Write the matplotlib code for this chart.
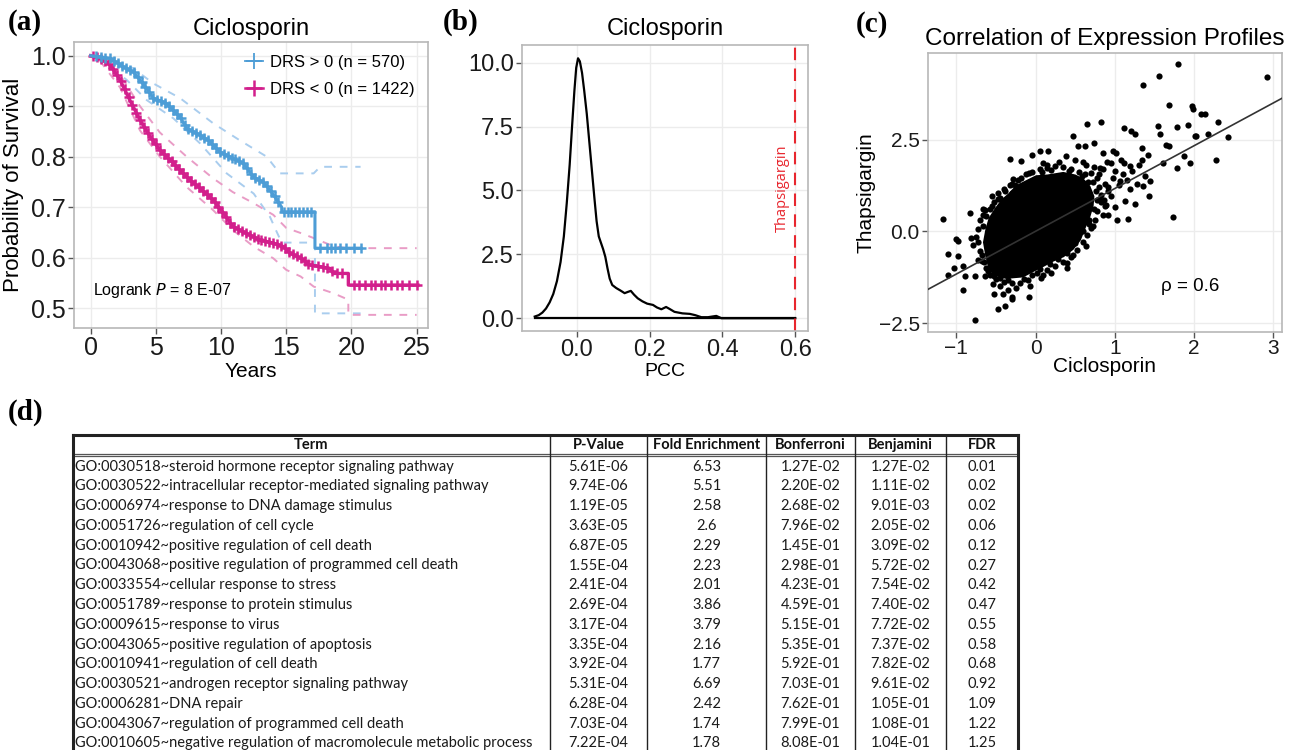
import numpy as np
import matplotlib.pyplot as plt
from matplotlib.lines import Line2D

plt.rcParams['font.family'] = ['Liberation Sans', 'DejaVu Sans']

W, H = 1291, 750
fig = plt.figure(figsize=(W / 100, H / 100), dpi=100)

# ---------------- data: (a) Kaplan-Meier ----------------
pos_t = [0, 1.48, 2.5, 3.27, 4.3, 4.8, 5.8, 6.85, 7.36, 8.4, 9.15, 9.9, 10.9, 11.7,
         12.5, 13.2, 13.75, 14.3, 14.65, 14.65, 17.2, 17.2, 20.7]
pos_s = [1.0, 0.995, 0.978, 0.968, 0.935, 0.916, 0.906, 0.879, 0.856, 0.843, 0.83, 0.81,
         0.797, 0.787, 0.76, 0.75, 0.734, 0.714, 0.70, 0.691, 0.691, 0.619, 0.619]
pos_up_t = [0.7, 3.27, 4.8, 6.85, 9.4, 11.4, 13.5, 14.5, 17.1, 17.6, 20.7]
pos_up_s = [1.0, 0.975, 0.945, 0.916, 0.866, 0.833, 0.80, 0.767, 0.767, 0.78, 0.78]
pos_lo_t = [0.7, 2.76, 4.3, 6.34, 8.4, 10.43, 12.5, 13.75, 14.2, 14.65, 17.2, 17.2, 20.7]
pos_lo_s = [0.995, 0.952, 0.912, 0.876, 0.826, 0.767, 0.727, 0.681, 0.655, 0.63, 0.63, 0.49, 0.49]
pos_cens = [0.4, 0.8, 1.1, 1.5, 1.8, 2.1, 2.4, 2.7, 3.0, 3.3, 3.6, 3.9, 4.2, 4.5, 4.8,
            5.1, 5.4, 5.7, 6.0, 6.3, 6.6, 6.9, 7.2, 7.5, 7.8, 8.1, 8.4, 8.7, 9.0, 9.3,
            9.6, 9.9, 10.2, 10.5, 10.8, 11.1, 11.4, 11.7, 12.0, 12.3, 12.6, 12.9, 13.2,
            13.5, 13.8, 14.1, 14.4, 14.8, 15.1, 15.4, 15.7, 16.0, 16.3, 16.6, 16.9,
            17.6, 18.1, 18.4, 18.7, 19.1, 19.6, 20.2, 20.7]

neg_t = [0, 0.72, 1.48, 2.25, 3.0, 3.78, 4.55, 5.32, 6.34, 7.36, 8.4, 9.4, 10.2, 10.9,
         11.96, 13.0, 14.0, 14.8, 15.3, 16.1, 16.8, 18.35, 18.6, 19.76, 19.76, 25.1]
neg_s = [1.0, 0.995, 0.982, 0.952, 0.912, 0.873, 0.84, 0.813, 0.787, 0.76, 0.737, 0.714,
         0.688, 0.662, 0.648, 0.635, 0.629, 0.622, 0.609, 0.599, 0.586, 0.579, 0.569,
         0.569, 0.546, 0.546]
neg_up_t = [0.7, 2.25, 3.78, 5.3, 7.36, 9.4, 10.9, 12.5, 14.0, 15.0, 16.1, 17.1, 18.6, 19.6, 25.0]
neg_up_s = [0.998, 0.962, 0.90, 0.848, 0.80, 0.757, 0.73, 0.708, 0.685, 0.659, 0.649,
            0.639, 0.623, 0.619, 0.619]
neg_lo_t = [0.7, 2.25, 3.78, 5.3, 7.36, 9.4, 10.9, 12.5, 14.0, 15.0, 16.1, 17.1, 18.6,
            19.76, 19.76, 25.0]
neg_lo_s = [0.99, 0.937, 0.852, 0.80, 0.74, 0.694, 0.655, 0.622, 0.599, 0.576, 0.563,
            0.543, 0.53, 0.517, 0.487, 0.487]
neg_cens = [0.2, 0.5, 0.8, 1.1, 1.4, 1.7, 2.0, 2.3, 2.6, 2.9, 3.2, 3.5, 3.8, 4.1, 4.4,
            4.7, 5.0, 5.3, 5.6, 5.9, 6.2, 6.5, 6.8, 7.1, 7.4, 7.7, 8.0, 8.3, 8.6, 8.9,
            9.2, 9.5, 9.8, 10.1, 10.4, 10.7, 11.0, 11.3, 11.6, 11.9, 12.2, 12.5, 12.8,
            13.1, 13.4, 13.7, 14.0, 14.3, 14.6, 14.9, 15.2, 15.5, 15.8, 16.1, 16.4,
            16.7, 17.0, 17.4, 17.8, 18.1, 18.5, 18.9, 19.3, 20.2, 20.6, 21.0, 21.5,
            21.8, 22.3, 22.6, 23.0, 23.5, 23.9, 24.4, 25.0]

# ---------------- data: (b) density of PCC ----------------
pcc_x = [-0.116, -0.105, -0.095, -0.085, -0.075, -0.065, -0.055, -0.045, -0.036, -0.028,
         -0.02, -0.013, -0.007, -0.002, 0.003, 0.008, 0.014, 0.02, 0.027, 0.034, 0.041,
         0.048, 0.054, 0.06, 0.066, 0.072, 0.078, 0.084, 0.09, 0.097, 0.108, 0.12,
         0.131, 0.14, 0.148, 0.157, 0.167, 0.18, 0.193, 0.209, 0.22, 0.232, 0.245,
         0.255, 0.268, 0.29, 0.31, 0.325, 0.342, 0.36, 0.383, 0.397, 0.45, 0.6]
pcc_d = [0.065, 0.12, 0.22, 0.38, 0.62, 0.95, 1.45, 2.2, 3.2, 4.5, 6.0, 7.6, 8.9, 9.8,
         10.17, 10.05, 9.6, 8.9, 8.0, 6.9, 5.8, 4.7, 3.8, 3.2, 2.95, 2.7, 2.4, 1.95,
         1.55, 1.3, 1.18, 1.08, 0.98, 1.03, 1.07, 0.92, 0.78, 0.66, 0.57, 0.52, 0.42,
         0.35, 0.44, 0.36, 0.25, 0.19, 0.17, 0.12, 0.04, 0.04, 0.09, 0.0, 0.0, 0.0]
thaps_pcc = 0.6

# ---------------- data: (c) scatter ----------------
sc_x = [-1.17, 1.80, 2.92, 1.56, 1.36, 1.68, 1.98, 1.99, 2.09, 2.14, 2.30, 1.93, 1.78,
        1.55, 1.57, 2.18, 2.01, 2.03, 2.43, 0.65, 0.83, 1.12, 1.21, 1.25, 0.47, 2.28,
        1.95, 1.87, 1.79, 1.61, 1.74, 1.65, 1.68, 1.34, 1.42, 1.43, 1.38, 1.17, 1.03,
        0.92, 1.25, 1.13, 1.19, 1.36, 1.44, 1.06, 0.98, 1.02, 0.85, 0.74, 0.63, 0.53,
        0.39, 0.16, 0.05, -0.05, -0.18, -0.32, 0.14, -0.26, -0.30, -0.64, -0.83, -0.81,
        -1.0, -0.98, -0.79, -1.10, -0.98, -0.73, -0.67, -0.92, -1.03, -1.10, -0.89,
        -0.92, -0.77, -0.64, -0.54, -0.52, -0.41, -0.30, -0.30, -0.47, -0.39, -0.08,
        -0.76, -0.07, 0.07, 0.20, 0.40, 0.47, 0.64, 0.73, 0.89, 0.81, 0.68, 0.64, 0.81,
        1.00, 1.11, 1.19, 1.34]
sc_y = [0.34, 4.57, 4.21, 4.23, 4.0, 3.43, 3.41, 3.32, 3.2, 3.2, 2.97, 2.91, 2.84,
        2.86, 2.65, 2.65, 2.59, 2.61, 2.56, 2.93, 2.99, 2.82, 2.73, 2.64, 2.59, 1.94,
        1.86, 2.06, 1.73, 1.86, 0.38, 2.36, 2.32, 2.27, 2.09, 0.95, 1.5, 0.34, 0.32,
        0.45, 0.75, 0.82, 1.14, 1.23, 1.36, 1.36, 2.18, 2.14, 2.14, 2.41, 2.32, 2.32,
        2.06, 2.18, 2.18, 2.09, 1.91, 1.98, 1.82, 1.27, 1.05, 0.57, 0.5, -0.18, -0.21,
        -0.27, -0.36, -0.61, -0.66, -0.77, -0.64, -0.95, -1.0, -1.18, -1.23, -1.59,
        -1.21, -1.21, -1.45, -1.7, -1.7, -1.79, -1.85, -2.12, -2.03, -1.8, -2.41, -1.5,
        -1.27, -1.14, -0.86, -0.64, -0.41, 0.14, 0.73, 0.86, 1.05, 1.82, 1.73, 1.64,
        1.86, 1.77, 1.95]
# points crowding around the edge of the dense core
halo_x = [-0.72, -0.70, -0.66, -0.58, -0.52, -0.45, -0.38, -0.32, -0.22, -0.12, -0.05,
          0.05, 0.15, 0.25, 0.35, 0.45, 0.55, 0.62, -0.66, -0.48, -0.28, 0.10, 0.30,
          0.72, 0.80, 0.83, 0.82, 0.78, 0.75, 0.70, 0.65, 0.60, 0.52, 0.45, 0.35, 0.25,
          0.15, 0.02, -0.10, -0.20, -0.30, -0.40, -0.50, -0.58, -0.62, -0.68, -0.70,
          -0.72, -0.75, -0.25, -0.45, 0.10, 0.70, 0.78, 0.88, 0.92, 0.98, 1.05, 1.10,
          0.85, 0.95, 1.08, 1.15, 1.22, 1.30, 1.28, 0.88, 0.95, 1.00, 0.85, 0.90, 0.60,
          0.50, -0.35, 0.40, 0.68, -0.55,
          -0.66, -0.62, -0.55, -0.47, -0.40, -0.30, -0.18, -0.08, 0.08, 0.20, 0.42,
          0.58, 0.66, 0.76, 0.78, 0.74, 0.68, 0.60, 0.50, 0.40, 0.28, 0.18, 0.05,
          -0.05, -0.15, -0.35, -0.45, -0.52, -0.60, -0.65, 0.86, 0.92, 0.80, 0.74]
halo_y = [0.05, 0.30, 0.45, 0.62, 0.80, 0.92, 1.10, 1.25, 1.40, 1.55, 1.62, 1.70, 1.72,
          1.78, 1.74, 1.70, 1.62, 1.55, 0.60, 1.05, 1.42, 1.85, 1.90, 1.35, 1.20, 1.00,
          0.80, 0.55, 0.30, 0.10, -0.10, -0.30, -0.50, -0.70, -0.85, -0.95, -1.05,
          -1.15, -1.32, -1.40, -1.42, -1.38, -1.30, -1.20, -1.00, -0.80, -0.55, -0.30,
          -0.15, -1.55, -1.50, -1.20, 1.60, 1.45, 1.30, 1.10, 1.45, 1.25, 1.55, 1.70,
          1.85, 1.95, 1.40, 1.65, 1.80, 1.30, 0.70, 0.95, 0.65, 0.45, 1.90, 1.90, 1.95,
          -1.60, -1.00, 0.20, 0.95,
          0.15, 0.42, 0.70, 0.88, 1.15, 1.30, 1.45, 1.58, 1.62, 1.66, 1.64, 1.50, 1.35,
          1.10, 0.85, 0.60, 0.30, 0.00, -0.32, -0.58, -0.75, -0.90, -1.02, -1.18, -1.30,
          -1.33, -1.28, -1.22, -1.08, -0.85, 0.85, 1.20, 1.55, 1.75]
# dense core of the cloud (outline of the solid region)
core_x = [-0.62, -0.58, -0.50, -0.42, -0.33, -0.24, -0.12, 0.01, 0.15, 0.35, 0.50,
          0.60, 0.68, 0.73, 0.72, 0.68, 0.62, 0.56, 0.47, 0.35, 0.22, 0.09, -0.03,
          -0.16, -0.27, -0.37, -0.46, -0.54, -0.59, -0.62, -0.65]
core_y = [0.05, 0.35, 0.62, 0.85, 1.02, 1.23, 1.36, 1.50, 1.52, 1.59, 1.52, 1.41, 1.22,
          0.95, 0.70, 0.41, 0.10, -0.23, -0.48, -0.68, -0.80, -0.95, -1.08, -1.23,
          -1.25, -1.27, -1.22, -1.14, -0.95, -0.68, -0.30]
fit_slope, fit_icpt = 1.166, 0.0
rho = 0.6

# ---------------- data: (d) GO table ----------------
col_names = ['Term', 'P-Value', 'Fold Enrichment', 'Bonferroni', 'Benjamini', 'FDR']
terms = ['GO:0030518~steroid hormone receptor signaling pathway',
         'GO:0030522~intracellular receptor-mediated signaling pathway',
         'GO:0006974~response to DNA damage stimulus',
         'GO:0051726~regulation of cell cycle',
         'GO:0010942~positive regulation of cell death',
         'GO:0043068~positive regulation of programmed cell death',
         'GO:0033554~cellular response to stress',
         'GO:0051789~response to protein stimulus',
         'GO:0009615~response to virus',
         'GO:0043065~positive regulation of apoptosis',
         'GO:0010941~regulation of cell death',
         'GO:0030521~androgen receptor signaling pathway',
         'GO:0006281~DNA repair',
         'GO:0043067~regulation of programmed cell death',
         'GO:0010605~negative regulation of macromolecule metabolic process']
p_value = ['5.61E-06', '9.74E-06', '1.19E-05', '3.63E-05', '6.87E-05', '1.55E-04',
           '2.41E-04', '2.69E-04', '3.17E-04', '3.35E-04', '3.92E-04', '5.31E-04',
           '6.28E-04', '7.03E-04', '7.22E-04']
fold_enr = ['6.53', '5.51', '2.58', '2.6', '2.29', '2.23', '2.01', '3.86', '3.79',
            '2.16', '1.77', '6.69', '2.42', '1.74', '1.78']
bonferroni = ['1.27E-02', '2.20E-02', '2.68E-02', '7.96E-02', '1.45E-01', '2.98E-01',
              '4.23E-01', '4.59E-01', '5.15E-01', '5.35E-01', '5.92E-01', '7.03E-01',
              '7.62E-01', '7.99E-01', '8.08E-01']
benjamini = ['1.27E-02', '1.11E-02', '9.01E-03', '2.05E-02', '3.09E-02', '5.72E-02',
             '7.54E-02', '7.40E-02', '7.72E-02', '7.37E-02', '7.82E-02', '9.61E-02',
             '1.05E-01', '1.08E-01', '1.04E-01']
fdr = ['0.01', '0.02', '0.02', '0.06', '0.12', '0.27', '0.42', '0.47', '0.55', '0.58',
       '0.68', '0.92', '1.09', '1.22', '1.25']

BLUE, BLUE_L = '#4d9dd6', '#a9cdee'
MAG, MAG_L = '#d21f8c', '#e99cc6'


def px_axes(l, t, r, b):
    return fig.add_axes([l / W, 1 - b / H, (r - l) / W, (b - t) / H])


def gg_style(ax, size):
    for s in ax.spines.values():
        s.set_color('#b8b8b8')
        s.set_linewidth(1.2)
    ax.grid(True, color='#ececec', lw=1.0)
    ax.set_axisbelow(True)
    ax.tick_params(length=4, width=1, color='#555555', labelsize=size,
                   labelcolor='#1a1a1a', pad=2)


def panel_label(x, y, s):
    fig.text(x / W, 1 - y / H, s, family=['Liberation Serif', 'DejaVu Serif'],
             weight='bold', size=21, va='center', ha='left')


# ---------------- table (d), drawn on a full-figure axes ----------------
tab = fig.add_axes([0, 0, 1, 1])
tab.set_xlim(0, W)
tab.set_ylim(H, 0)
tab.axis('off')
col_edges = [72.7, 550, 647, 766, 855, 946, 1018]
top, head_bot, row0, row_h = 434.5, 455, 466.7, 19.76
tfont = ['Lato', 'DejaVu Sans']
tab.plot([col_edges[0], col_edges[-1]], [top, top], color='#222222', lw=2.2)
tab.plot([col_edges[0], col_edges[-1]], [head_bot - 1.3, head_bot - 1.3], color='#555555', lw=0.9)
tab.plot([col_edges[0], col_edges[-1]], [head_bot + 1.3, head_bot + 1.3], color='#555555', lw=0.9)
for i, xe in enumerate(col_edges):
    lw = 2.2 if i in (0, len(col_edges) - 1) else 1.0
    tab.plot([xe, xe], [top, H + 5], color='#222222', lw=lw)
for j, name in enumerate(col_names):
    cx = (col_edges[j] + col_edges[j + 1]) / 2
    tab.text(cx, (top + head_bot) / 2 + 0.5, name, family=tfont, weight='bold', size=10.5,
             ha='center', va='center', color='#111111')
cols = [p_value, fold_enr, bonferroni, benjamini, fdr]
for i, term in enumerate(terms):
    y = row0 + i * row_h
    tab.text(col_edges[0] + 2, y, term, family=tfont, size=10.5, ha='left', va='center',
             color='#1a1a1a')
    for j, col in enumerate(cols):
        cx = (col_edges[j + 1] + col_edges[j + 2]) / 2
        tab.text(cx, y, col[i], family=tfont, size=10.5, ha='center', va='center',
                 color='#1a1a1a')

# ---------------- (a) survival ----------------
ax = px_axes(74, 42, 428, 328)
gg_style(ax, 18)
ax.plot(pos_up_t, pos_up_s, color=BLUE_L, lw=1.4, dashes=(4, 4))
ax.plot(pos_lo_t, pos_lo_s, color=BLUE_L, lw=1.4, dashes=(4, 4))
ax.plot(neg_up_t, neg_up_s, color=MAG_L, lw=1.4, dashes=(4, 4))
ax.plot(neg_lo_t, neg_lo_s, color=MAG_L, lw=1.4, dashes=(4, 4))
ax.plot(neg_t, neg_s, color=MAG, lw=2.4)
ax.plot(neg_cens, np.interp(neg_cens, neg_t, neg_s), ls='none', marker='+', ms=7,
        mew=1.8, color=MAG)
ax.plot(pos_t, pos_s, color=BLUE, lw=2.2)
ax.plot(pos_cens, np.interp(pos_cens, pos_t, pos_s), ls='none', marker='+', ms=7,
        mew=1.8, color=BLUE)
ax.set_xlim(-1.28, 25.87)
ax.set_ylim(0.461, 1.027)
ax.set_xticks([0, 5, 10, 15, 20, 25])
ax.set_yticks([0.5, 0.6, 0.7, 0.8, 0.9, 1.0])
ax.set_yticklabels(['0.5', '0.6', '0.7', '0.8', '0.9', '1.0'])
ax.set_xlabel('Years', size=15, labelpad=1)
ax.set_ylabel('Probability of Survival', size=16, labelpad=5)
ax.set_title('Ciclosporin', size=17, pad=5)
handles = [Line2D([], [], color=BLUE, lw=1.3, marker='+', ms=11, mew=1.3),
           Line2D([], [], color=MAG, lw=1.8, marker='+', ms=11, mew=1.8)]
ax.legend(handles, ['DRS > 0 (n = 570)', 'DRS < 0 (n = 1422)'], loc='upper right',
          bbox_to_anchor=(1.0, 1.0), frameon=False, fontsize=12, handlelength=1.1,
          handletextpad=0.4, labelspacing=0.7, borderaxespad=0.4)
ax.text(0.18, 0.536, 'Logrank $\\it{P}$ = 8 E-07', size=11.5, va='center', ha='left')
panel_label(8, 22, '(a)')

# ---------------- (b) density ----------------
ax = px_axes(522, 45, 808, 331)
gg_style(ax, 17)
ax.plot(pcc_x, pcc_d, color='black', lw=1.6, solid_joinstyle='round')
ax.plot([pcc_x[0], pcc_x[-1]], [0, 0], color='black', lw=1.6)
ax.axvline(thaps_pcc, color='#e8262e', lw=1.5, dashes=(6, 4))
ax.text(thaps_pcc - 0.035, 5.1, 'Thapsigargin', rotation=90, color='#e8262e', size=10.5,
        ha='center', va='center', family=['Open Sans', 'DejaVu Sans'])
ax.set_xlim(-0.151, 0.635)
ax.set_ylim(-0.5, 10.69)
ax.set_xticks([0.0, 0.2, 0.4, 0.6])
ax.set_xticklabels(['0.0', '0.2', '0.4', '0.6'])
ax.set_yticks([0, 2.5, 5, 7.5, 10])
ax.set_yticklabels(['0.0', '2.5', '5.0', '7.5', '10.0'])
ax.set_xlabel('PCC', size=14, labelpad=1)
ax.set_title('Ciclosporin', size=17, pad=7)
panel_label(443, 22, '(b)')

# ---------------- (c) scatter ----------------
ax = px_axes(928, 53, 1282, 332)
gg_style(ax, 15)
ax.tick_params(axis='x', pad=1)
ax.fill(core_x, core_y, color='black', lw=1.5, ec='black', zorder=2)
ax.scatter(halo_x, halo_y, s=20, color='black', lw=0, zorder=3)
ax.scatter(sc_x, sc_y, s=20, color='black', lw=0, zorder=3)
xl = np.array([-1.357, 3.11])
ax.plot(xl, fit_slope * xl + fit_icpt, color='#333333', lw=1.2, zorder=4)
ax.text(1.95, -1.5, '\u03c1 = %.1f' % rho, size=13.5, ha='center', va='center')
ax.set_xlim(-1.357, 3.11)
ax.set_ylim(-2.745, 4.86)
ax.set_xticks([-1, 0, 1, 2, 3])
ax.set_xticklabels(['\u22121', '0', '1', '2', '3'])
ax.set_yticks([-2.5, 0, 2.5])
ax.set_yticklabels(['\u22122.5', '0.0', '2.5'])
ax.set_xlabel('Ciclosporin', size=15, labelpad=-1)
ax.set_ylabel('Thapsigargin', size=15, labelpad=2)
ax.set_title('Correlation of Expression Profiles', size=17.5, pad=6)
panel_label(856, 24, '(c)')

panel_label(8, 412, '(d)')

fig.savefig('out.png', dpi=100)
